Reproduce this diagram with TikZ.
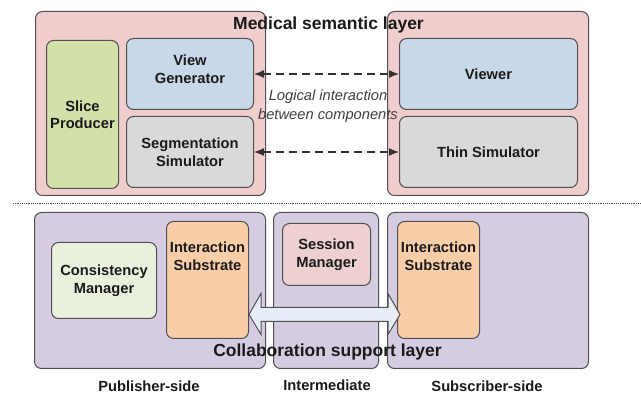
\documentclass[tikz,border=0pt]{standalone}
\usepackage{fontspec}
\setmainfont{Liberation Sans}
\usetikzlibrary{arrows.meta,calc}
\definecolor{pinkbg}{HTML}{F1CECE}
\definecolor{sessbg}{HTML}{EED0D0}
\definecolor{greenbg}{HTML}{D3E0AA}
\definecolor{bluebg}{HTML}{C9D8E8}
\definecolor{graybg}{HTML}{D9D9D9}
\definecolor{purplebg}{HTML}{D5CCE2}
\definecolor{lgreenbg}{HTML}{EAF0DE}
\definecolor{orangebg}{HTML}{F9CDA8}
\definecolor{arrowbg}{HTML}{E6EDF7}
\definecolor{edge}{HTML}{505050}
\definecolor{txtc}{HTML}{1A1A1A}
\definecolor{italc}{HTML}{404040}
\begin{document}
\begin{tikzpicture}[x=1pt,y=-1pt,
  box/.style={draw=edge, line width=1pt, rounded corners=7pt, anchor=north west, inner sep=0pt},
  txt/.style={font=\bfseries\fontsize{14.7}{17.5}\selectfont, align=center, text=txtc},
  title/.style={font=\bfseries\fontsize{17.5}{21}\selectfont, text=txtc, inner sep=0pt},
  dasharr/.style={draw=black!80, line width=1.2pt, dash pattern=on 8pt off 5pt,
     {Latex[length=10pt,width=8pt]}-{Latex[length=10pt,width=8pt]}},
  blockarr/.style={draw=edge, line width=1pt, fill=arrowbg, line join=miter}
]
\useasboundingbox (0,0) rectangle (641,398);

% Medical semantic layer
\node[box, fill=pinkbg, minimum width=230pt, minimum height=184pt] (medL) at (35,11) {};
\node[box, fill=pinkbg, minimum width=201pt, minimum height=184pt] (medR) at (387,11) {};
\node[box, txt, fill=greenbg, minimum width=72pt, minimum height=148pt] (slice) at (46,40) {Slice\\Producer};
\node[box, fill=bluebg, minimum width=127pt, minimum height=71pt] (viewgen) at (126,38) {};
\node[txt, inner sep=0pt] (viewgent) at ($(viewgen.center)+(0,-5)$) {View\\Generator};
\node[box, txt, fill=graybg, minimum width=127pt, minimum height=71pt] (segsim) at (126,116) {Segmentation\\Simulator};
\node[box, txt, fill=bluebg, minimum width=178pt, minimum height=71pt] (viewer) at (399,38) {Viewer};
\node[box, txt, fill=graybg, minimum width=178pt, minimum height=71pt] (thin) at (399,116) {Thin Simulator};

\node[title] (medtitle) at (328.5,25) {Medical semantic layer};

\draw[dasharr] (viewgen.east) -- (viewer.west);
\draw[dasharr] (segsim.east) -- (thin.west);
\node[font=\itshape\fontsize{14.7}{19}\selectfont, text=italc, align=center] (logical) at (328,106.5) {Logical interaction\\between components};

% separator
\coordinate (sepL) at (13,204);
\coordinate (sepR) at (641,204);
\draw[edge, line width=1pt, dash pattern=on 1.1pt off 1.1pt] (sepL) -- (sepR);

% Collaboration support layer
\node[box, fill=purplebg, minimum width=231pt, minimum height=156pt] (pub) at (34,212) {};
\node[box, fill=purplebg, minimum width=105pt, minimum height=156pt] (mid) at (273,212) {};
\node[box, fill=purplebg, minimum width=201pt, minimum height=156pt] (sub) at (387,212) {};
\node[box, txt, fill=lgreenbg, minimum width=105pt, minimum height=76pt] (cons) at (51,242) {Consistency\\Manager};
\node[box, fill=orangebg, minimum width=82pt, minimum height=117pt] (isL) at (166,221) {};
\node[box, txt, fill=sessbg, minimum width=88pt, minimum height=62pt] (sess) at (282,223) {Session\\Manager};
\node[box, fill=orangebg, minimum width=82pt, minimum height=117pt] (isR) at (397,221) {};
\node[txt, inner sep=0pt] (isLt) at ($(isL.north)+(0,35)$) {Interaction\\Substrate};
\node[txt, inner sep=0pt] (isRt) at ($(isR.north)+(0,35)$) {Interaction\\Substrate};

% block double arrow
\coordinate (aL) at ($(isL.east)+(0,34.5)$);
\coordinate (aR) at ($(isR.west)+(3,34.5)$);
\draw[blockarr] (aL) -- ++(12,-21) -- ++(0,14) -- ($(aR)+(-12,-7)$) -- ++(0,-14) -- (aR)
  -- ++(-12,20) -- ++(0,-13) -- ($(aL)+(12,7)$) -- ++(0,13) -- cycle;

\node[title] (coltitle) at (327.5,352) {Collaboration support layer};

% bottom labels
\node[txt] (publbl) at (149,386) {Publisher-side};
\node[txt] (midlbl) at (327,385) {Intermediate};
\node[txt] (sublbl) at (487,386) {Subscriber-side};
\end{tikzpicture}
\end{document}
